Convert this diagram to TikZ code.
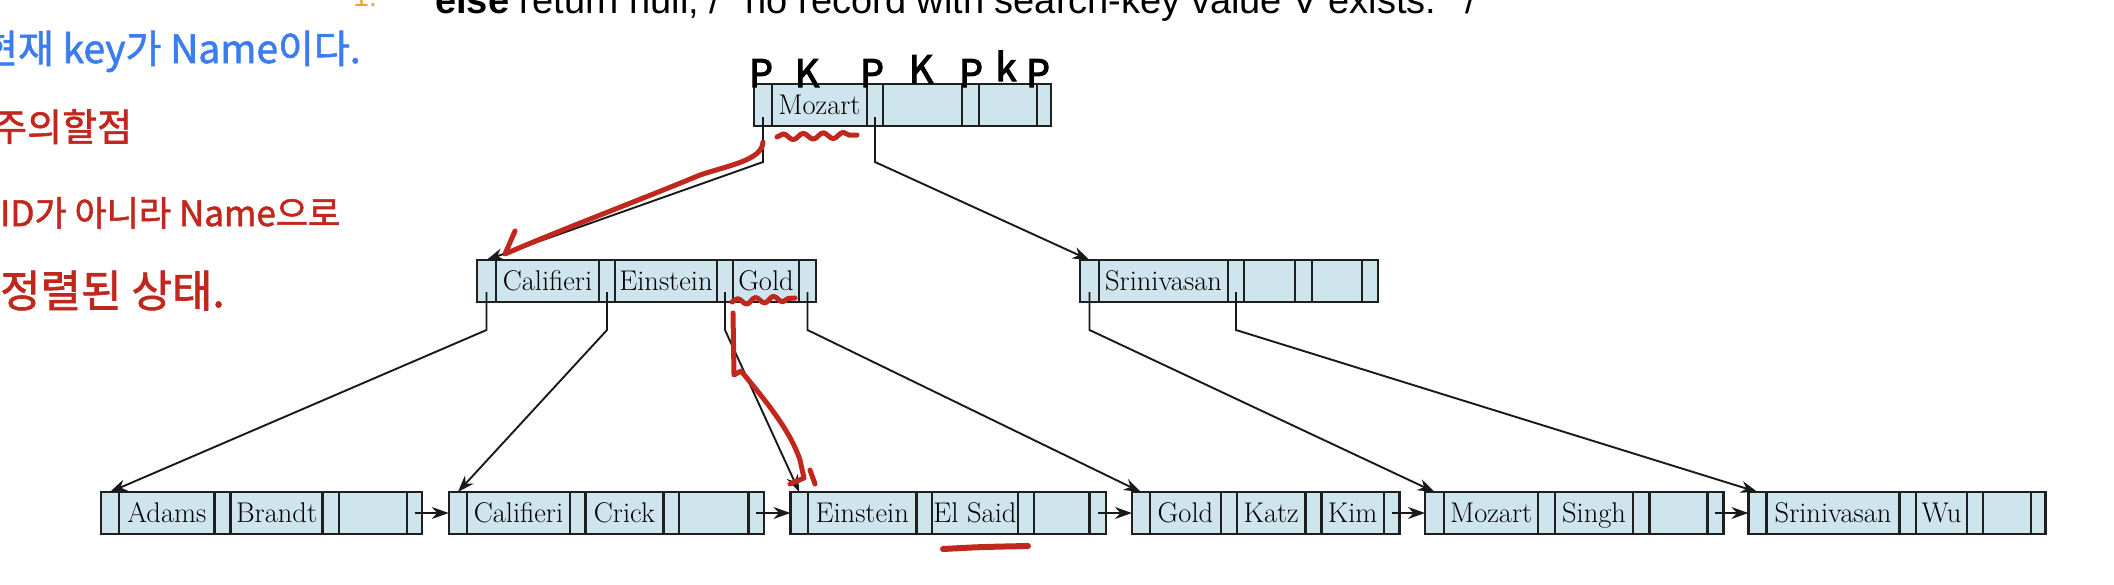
\documentclass[tikz,border=0pt]{standalone}
\usepackage{fontspec}
\usepackage{xcolor}
\newfontfamily\codefont{Liberation Sans}
\newfontfamily\notefont[FakeBold=1.6]{Noto Sans CJK KR}
\newfontfamily\handfont[FakeBold=3]{Noto Sans CJK KR}
\usetikzlibrary{arrows.meta,decorations.pathmorphing}

\definecolor{cellblue}{RGB}{206,229,238}
\definecolor{penred}{RGB}{192,40,30}
\definecolor{penblue}{RGB}{59,125,240}
\definecolor{lineorange}{RGB}{240,160,60}

% one B+ tree node: name, x, y, list of width/key
\newcommand{\bpnode}[4]{%
  \foreach \w/\txt [count=\i] in {#4} {
    \ifnum\i=1
      \node[cell, minimum width=\w pt, anchor=west] (#1-\i) at (#2,#3) {\txt};
    \else
      \pgfmathtruncatemacro\prev{\i-1}
      \node[cell, minimum width=\w pt, anchor=west] (#1-\i) at (#1-\prev.east) {\txt};
    \fi
  }
}

\begin{document}
\begin{tikzpicture}[x=1pt, y=-1pt,
    cell/.style={draw=black!88, line width=2.4pt, fill=cellblue, minimum height=42pt,
      inner sep=0pt, outer sep=0pt, text height=21pt, text depth=2pt,
      font=\fontsize{28.5}{32}\selectfont},
    edge/.style={draw=black!90, line width=1.9pt, -{Stealth[length=17pt, width=12pt]}},
    pen/.style={draw=penred, line width=5pt, line cap=round, line join=round},
    pk/.style={font=\handfont\fontsize{38}{38}\selectfont, anchor=base, inner sep=0pt},
    note/.style={font=\notefont\fontsize{37}{40}\selectfont, anchor=base west, inner sep=0pt}]
  \useasboundingbox (0,0) rectangle (2114,584);

  % cut-off code line on top
  \node[anchor=base east, inner sep=0pt, text=lineorange, font=\codefont\fontsize{28}{30}\selectfont] (lineno) at (377,6) {1:};
  \node[anchor=base west, inner sep=0pt, font=\codefont\fontsize{38}{40}\selectfont] (codeline) at (435,13)
    {\textbf{else} return null; /* no record with search-key value V exists. */};

  % tree
  \bpnode{root}{754}{105}{18/{},95/Mozart,16/{},79/{},17/{},58/{},14/{}}
  \bpnode{midl}{477}{281}{19/{},103/Califieri,16/{},102/Einstein,16/{},66/Gold,17/{}}
  \bpnode{midr}{1080}{281}{19/{},129/Srinivasan,16/{},51/{},17/{},50/{},16/{}}
  \bpnode{leafa}{100.7}{513}{18.4/{},95.5/Adams,16/{},92/Brandt,16.5/{},68/{},15/{}}
  \bpnode{leafb}{448.7}{513}{18.4/{},102.8/Califieri,15.5/{},78/Crick,15.5/{},69.4/{},15.5/{}}
  \bpnode{leafc}{790.4}{513}{17.8/{},108.1/Einstein,15.6/{},86.1/El Said,16.1/{},55.4/{},16.5/{}}
  \bpnode{leafd}{1131.9}{513}{17.8/{},71.5/Gold,15.6/{},68.7/Katz,16.1/{},62.1/Kim,15.6/{}}
  \bpnode{leafe}{1425}{513}{19.2/{},93.8/Mozart,16.8/{},78.4/Singh,16.3/{},57.9/{},15.9/{}}
  \bpnode{leaff}{1748.4}{513}{18.2/{},132.9/Srinivasan,16.5/{},51/Wu,15.9/{},47.8/{},14.6/{}}

  \draw[edge] ([yshift=-12pt]root-1.center) -- ++(0,45) -- (midl-1.north);
  \draw[edge] ([yshift=-12pt]root-3.center) -- ++(0,45) -- (midr-1.north);
  \draw[edge] ([yshift=-11pt]midl-1.center) -- ++(0,38) -- (leafa-1.north);
  \draw[edge] ([yshift=-11pt]midl-3.center) -- ++(0,38) -- (leafb-1.north);
  \draw[edge] ([yshift=-11pt]midl-5.center) -- ++(0,38) -- (leafc-1.north);
  \draw[edge] ([yshift=-11pt]midl-7.center) -- ++(0,38) -- (leafd-1.north);
  \draw[edge] ([yshift=-11pt]midr-1.center) -- ++(0,38) -- (leafe-1.north);
  \draw[edge] ([yshift=-11pt]midr-3.center) -- ++(0,38) -- (leaff-1.north);

  \draw[edge] (leafa-7.center) -- (leafb-1.west);
  \draw[edge] (leafb-7.center) -- (leafc-1.west);
  \draw[edge] (leafc-7.center) -- (leafd-1.west);
  \draw[edge] (leafd-7.center) -- (leafe-1.west);
  \draw[edge] (leafe-7.center) -- (leaff-1.west);

  % handwritten notes
  \node[pk] (pkp1) at (761,87) {P};
  \node[pk] (pkk1) at (807,87) {K};
  \node[pk] (pkp2) at (872,87) {P};
  \node[pk] (pkk2) at (921,83) {K};
  \node[pk] (pkp3) at (971,87) {P};
  \node[pk] (pkk3) at (1006,81) {k};
  \node[pk] (pkp4) at (1038,87) {P};

  \node[note, text=penblue, font=\notefont\fontsize{39}{42}\selectfont] (keynote) at (-18,63) {현재 key가 Name이다.};
  \node[note, text=penred, font=\notefont\fontsize{38}{42}\selectfont] (warnnote) at (-8,141) {주의할점};
  \node[note, text=penred, font=\notefont\fontsize{35}{40}\selectfont] (idnote) at (0,226) {ID가 아니라 Name으로};
  \node[note, text=penred, font=\notefont\fontsize{44}{48}\selectfont] (sortnote) at (0,307) {정렬된 상태.};

  \draw[pen, decorate, decoration={snake, segment length=20pt, amplitude=3pt}] (777,137) -- (857,135);
  \draw[pen, decorate, decoration={snake, segment length=18pt, amplitude=3pt}] (732,302) -- (795,298);
  \draw[pen] (763,142) .. controls (762,160) and (730,165) .. (700,175)
    .. controls (640,200) and (560,230) .. (505,254) -- (515,231);
  \draw[pen] (733,313) -- (734,375) -- (741,371) .. controls (765,400) and (790,430) .. (800,460)
    -- (804,478) -- (790,484);
  \draw[pen] (810,470) -- (815,484);
  \draw[pen, line width=6pt] (943,549) .. controls (980,547) .. (1028,546);
\end{tikzpicture}
\end{document}
